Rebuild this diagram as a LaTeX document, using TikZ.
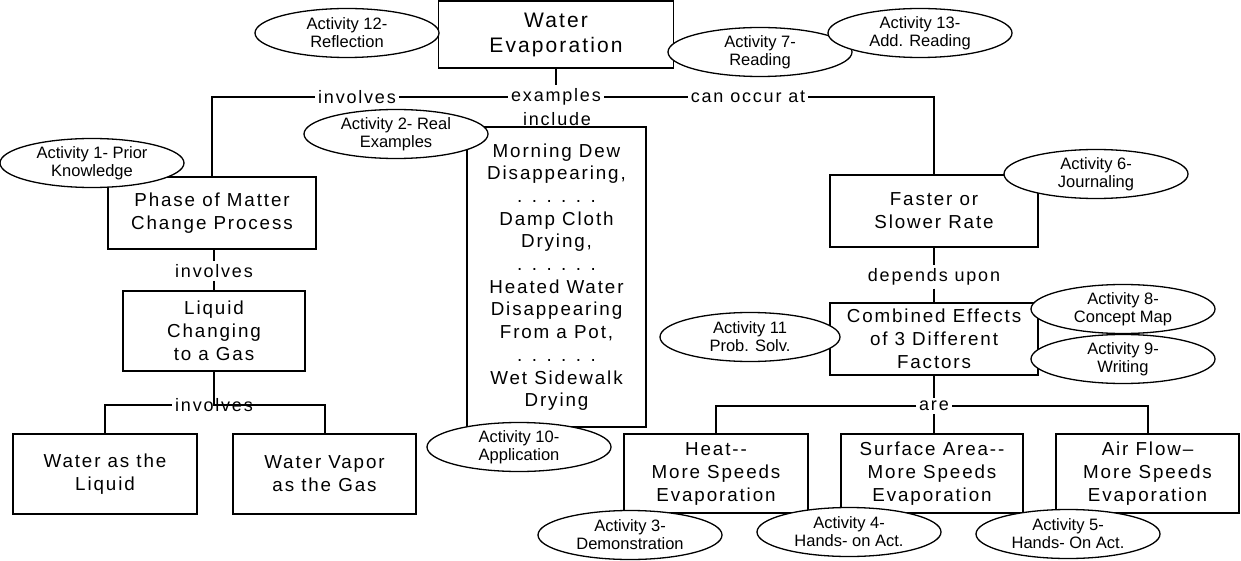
\documentclass[tikz,border=0pt]{standalone}
\usepackage{fontspec}
\setmainfont{Liberation Sans}[LetterSpace=10]
\newfontfamily\actfont{Liberation Sans}
\usetikzlibrary{shapes.geometric}
\begin{document}
\begin{tikzpicture}[x=1pt, y=-1pt,
		box/.style={draw, line width=1.3pt, inner sep=0pt, align=center, font=\fontsize{18.8}{23}\selectfont},
		act/.style={draw, ellipse, fill=white, line width=1.3pt, inner sep=0pt, minimum width=184pt, minimum height=49pt, align=center, font=\actfont\fontsize{16.5}{18}\selectfont},
		lbl/.style={inner sep=3pt, font=\fontsize{18}{21}\selectfont},
		link/.style={line width=2pt}]
		\useasboundingbox (0,0) rectangle (1241,561);

		\node[box, minimum width=235pt, minimum height=67pt, font=\fontsize{21}{25}\selectfont] (water) at (556,34.5) {Water\\Evaporation};
		\node[box, minimum width=208pt, minimum height=72pt] (phase) at (212,213) {Phase of Matter\\Change Process};
		\node[box, minimum width=182pt, minimum height=80pt] (liquid) at (214,331) {Liquid\\Changing\\to a Gas};
		\node[box, minimum width=184pt, minimum height=80pt] (wliq) at (105,474) {Water as the\\Liquid};
		\node[box, minimum width=183pt, minimum height=80pt] (wvap) at (324.5,474) {Water Vapor\\as the Gas};
		\node[box, minimum width=179pt, minimum height=300pt, font=\fontsize{18.8}{22.7}\selectfont] (examples) at (556.5,277) {Morning Dew\\Disappearing,\\. . . . . .\\Damp Cloth\\Drying,\\. . . . . .\\Heated Water\\Disappearing\\From a Pot,\\. . . . . .\\Wet Sidewalk\\Drying};
		\node[box, minimum width=208pt, minimum height=72pt] (faster) at (934,211) {Faster or\\Slower Rate};
		\node[box, minimum width=208pt, minimum height=72pt] (combined) at (934,339) {Combined Effects\\of 3 Different\\Factors};
		\node[box, minimum width=184pt, minimum height=79pt] (heat) at (716,473.5) {Heat-{}-\\More Speeds\\Evaporation};
		\node[box, minimum width=182pt, minimum height=79pt] (surface) at (932,473.5) {Surface Area-{}-\\More Speeds\\Evaporation};
		\node[box, minimum width=183pt, minimum height=79pt] (airflow) at (1147.5,473.5) {Air Flow--\\More Speeds\\Evaporation};

		\node[lbl] (inv1) at (357,97) {involves};
		\node[lbl] (exa) at (556,97) {examples};
		\node[lbl] (inc) at (557,119) {include};
		\node[lbl] (canocc) at (748,97) {can occur at};
		\node[lbl] (inv2) at (214,271) {involves};
		\node[lbl] (inv3) at (214,405) {involves};
		\node[lbl] (dep) at (934,277) {depends upon};
		\node[lbl] (are) at (934,406) {are};

		\draw[link] (water.south) -- (exa.north);
		\draw[link] (phase.north) |- (inv1.west);
		\draw[link] (inv1.east) -- (exa.west);
		\draw[link] (exa.east) -- (canocc.west);
		\draw[link] (canocc.east) -| (faster.north);
		\draw[link] (inv2.north |- phase.south) -- (inv2.north);
		\draw[link] (inv2.south) -- (liquid.north);
		\draw[link] (liquid.south) -- (inv3.center) -| (wvap.north);
		\draw[link] (inv3.west) -| (wliq.north);
		\draw[link] (faster.south) -- (dep.north);
		\draw[link] (dep.south) -- (combined.north);
		\draw[link] (combined.south) -- (are.north);
		\draw[link] (are.west) -| (heat.north);
		\draw[link] (are.east) -| (airflow.north);
		\draw[link] (are.south) -- (are.south |- surface.north);

		\node[act] (a12) at (347,33) {Activity 12-\\Reflection};
		\node[act] (a7) at (760,52) {Activity 7-\\Reading};
		\node[act] (a13) at (920,33) {Activity 13-\\Add. Reading};
		\node[act] (a1) at (92,163) {Activity 1- Prior\\Knowledge};
		\node[act] (a2) at (396,134) {Activity 2- Real\\Examples};
		\node[act] (a6) at (1096,174) {Activity 6-\\Journaling};
		\node[act] (a8) at (1123,309) {Activity 8-\\Concept Map};
		\node[act] (a9) at (1123,359) {Activity 9-\\Writing};
		\node[act, minimum width=180pt] (a11) at (750,337) {Activity 11\\Prob. Solv.};
		\node[act] (a10) at (519,447) {Activity 10-\\Application};
		\node[act] (a3) at (630,535) {Activity 3-\\Demonstration};
		\node[act] (a4) at (849,532) {Activity 4-\\Hands- on Act.};
		\node[act] (a5) at (1068,534) {Activity 5-\\Hands- On Act.};
	\end{tikzpicture}
\end{document}
